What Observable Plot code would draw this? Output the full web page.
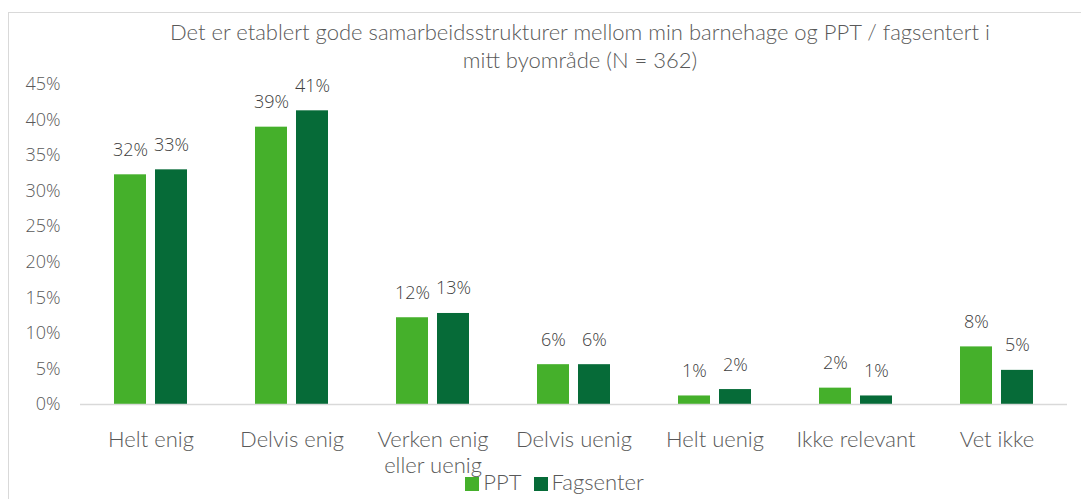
<!DOCTYPE html>
<html>
<head>
<meta charset="utf-8">
<script src="https://cdn.jsdelivr.net/npm/d3@7"></script>
<script src="https://cdn.jsdelivr.net/npm/@observablehq/plot@0.6"></script>
<style>
  html, body { margin: 0; padding: 0; background: #fff; }
  #wrap { position: relative; width: 1081px; height: 499px; overflow: hidden; }
  #frameTop { position: absolute; left: 8px; top: 12px; width: 1073px; height: 0; border-top: 1.5px solid #d9d9d9; }
  #frameLeft { position: absolute; left: 8px; top: 12px; width: 0; height: 487px; border-left: 1.5px solid #d9d9d9; }
  #title { position: absolute; left: 80px; width: 1000px; top: 18px; text-align: center;
    font-family: Lato, sans-serif; font-weight: 300; font-size: 22px; line-height: 28px; color: #595959; }
  #legend { position: absolute; left: 14px; width: 1081px; top: 470px; text-align: center;
    font-family: Lato, sans-serif; font-weight: 300; font-size: 22px; color: #595959; line-height: 24px; }
  #legend span.sw { display: inline-block; width: 14px; height: 14px; vertical-align: -1px; margin-right: 4px; }
  #legend span.item { margin: 0 6px; }
  #chart { position: absolute; left: 0; top: 0; }
</style>
</head>
<body>
<div id="wrap">
  <div id="frameTop"></div>
  <div id="frameLeft"></div>
  <div id="chart"></div>
  <div id="title">Det er etablert gode samarbeidsstrukturer mellom min barnehage og PPT / fagsentert i<br>mitt byområde (N = 362)</div>
  <div id="legend"></div>
</div>
<script>
const categories = ["Helt enig", "Delvis enig", "Verken enig\neller uenig", "Delvis uenig", "Helt uenig", "Ikke relevant", "Vet ikke"];
const series = ["PPT", "Fagsenter"];
const colors = ["#45b02b", "#066b38"];
const ppt = [0.323, 0.390, 0.122, 0.056, 0.012, 0.023, 0.081];
const fagsenter = [0.330, 0.413, 0.128, 0.056, 0.021, 0.012, 0.048];
const yTicks = [0, 0.05, 0.10, 0.15, 0.20, 0.25, 0.30, 0.35, 0.40, 0.45];

const data = [];
categories.forEach((c, i) => {
  data.push({category: c, series: "PPT", value: ppt[i]});
  data.push({category: c, series: "Fagsenter", value: fagsenter[i]});
});

const chart = Plot.plot({
  width: 1081,
  height: 499,
  marginTop: 84,
  marginBottom: 95,
  marginLeft: 80,
  marginRight: 14,
  style: {fontFamily: "Open Sans, sans-serif", background: "transparent", overflow: "visible"},
  fx: {domain: categories, padding: 0, label: null, axis: null},
  x: {domain: series, paddingInner: 0.2195, paddingOuter: 0.8256, axis: null},
  y: {domain: [0, 0.45], ticks: yTicks, label: null},
  color: {domain: series, range: colors},
  marks: [
    Plot.axisY({ticks: yTicks, tickFormat: d => Math.round(d * 100) + "%", tickSize: 0, tickPadding: 20,
      fontSize: 18, fill: "#595959", fontWeight: 300, label: null}),
    Plot.axisFx({anchor: "bottom", tickSize: 0, tickPadding: 25, fontSize: 22, fill: "#595959", label: null,
      fontFamily: "Lato", fontWeight: 300, lineHeight: 1.15, textAnchor: "middle", lineAnchor: "top"}),
    Plot.barY(data, {fx: "category", x: "series", y: "value", fill: "series"}),
    Plot.ruleY([0], {stroke: "#d9d9d9", strokeWidth: 1.5}),
    Plot.text(data, {fx: "category", x: "series", y: "value", text: d => Math.round(d.value * 100) + "%",
      lineAnchor: "bottom", dy: -19, fontSize: 18, fontWeight: 300, fill: "#404040"})
  ]
});
document.getElementById("chart").appendChild(chart);

const legend = document.getElementById("legend");
series.forEach((s, i) => {
  const item = document.createElement("span");
  item.className = "item";
  const sw = document.createElement("span");
  sw.className = "sw";
  sw.style.background = colors[i];
  item.appendChild(sw);
  item.appendChild(document.createTextNode(s));
  legend.appendChild(item);
});
</script>
</body>
</html>
